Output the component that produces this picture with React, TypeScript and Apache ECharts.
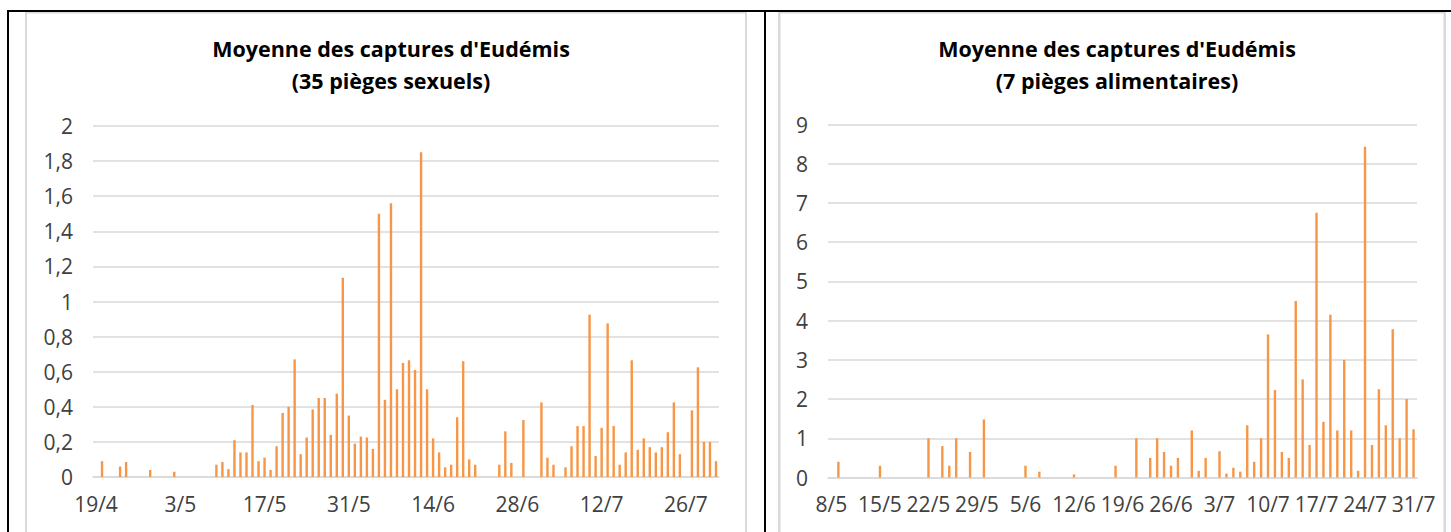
import React, { useEffect, useRef } from "react";
import * as echarts from "echarts";

// ---- Data ----
const leftTitle = "Moyenne des captures d'Eudémis\n(35 pièges sexuels)";
const rightTitle = "Moyenne des captures d'Eudémis\n(7 pièges alimentaires)";

// daily categories, first day of each series
const leftStart = { day: 19, month: 4, count: 104 };
const rightStart = { day: 8, month: 5, count: 85 };

// 35 pièges sexuels : 19/4 -> 31/7
const leftValues = [
  0, 0.09, 0, 0, 0.06, 0.085, 0, 0, 0, 0.04,
  0, 0, 0, 0.03, 0, 0, 0, 0, 0, 0,
  0.07, 0.085, 0.045, 0.21, 0.14, 0.14, 0.41, 0.09, 0.11, 0.04,
  0.175, 0.365, 0.4, 0.67, 0.13, 0.225, 0.385, 0.45, 0.45, 0.24,
  0.475, 1.135, 0.35, 0.19, 0.23, 0.225, 0.16, 1.5, 0.44, 1.56,
  0.5, 0.65, 0.665, 0.61, 1.85, 0.5, 0.22, 0.14, 0.055, 0.07,
  0.34, 0.66, 0.1, 0.07, 0, 0, 0, 0.07, 0.26, 0.08,
  0, 0.325, 0, 0, 0.425, 0.11, 0.07, 0, 0.055, 0.175,
  0.29, 0.29, 0.925, 0.12, 0.28, 0.875, 0.29, 0.07, 0.14, 0.665,
  0.155, 0.22, 0.17, 0.14, 0.17, 0.255, 0.425, 0.13, 0, 0.38,
  0.625, 0.2, 0.2, 0.09,
];

// 7 pièges alimentaires : 8/5 -> 31/7
const rightValues = [
  0, 0.4, 0, 0, 0, 0, 0, 0.3, 0, 0,
  0, 0, 0, 0, 1.0, 0, 0.8, 0.3, 1.0, 0,
  0.65, 0, 1.48, 0, 0, 0, 0, 0, 0.3, 0,
  0.15, 0, 0, 0, 0, 0.08, 0, 0, 0, 0,
  0, 0.3, 0, 0, 1.0, 0, 0.5, 1.0, 0.65, 0.3,
  0.5, 0, 1.2, 0.17, 0.5, 0, 0.67, 0.1, 0.25, 0.15,
  1.33, 0.4, 1.0, 3.65, 2.23, 0.65, 0.5, 4.5, 2.5, 0.83,
  6.75, 1.42, 4.15, 1.2, 3.0, 1.2, 0.17, 8.43, 0.83, 2.25,
  1.33, 3.78, 1.0, 2.0, 1.23,
];

const leftYTicks = { min: 0, max: 2, interval: 0.2 };
const rightYTicks = { min: 0, max: 9, interval: 1 };

function makeDates(s: { day: number; month: number; count: number }) {
  const out: string[] = [];
  const d = new Date(2021, s.month - 1, s.day);
  for (let i = 0; i < s.count; i++) {
    out.push(`${d.getDate()}/${d.getMonth() + 1}`);
    d.setDate(d.getDate() + 1);
  }
  return out;
}

const leftDates = makeDates(leftStart);
const rightDates = makeDates(rightStart);

const FONT = "Open Sans";
const LABEL_COLOR = "#404040";
const GRID_COLOR = "#d9d9d9";
const BAR_COLOR = "#F79646";

function fmtComma(v: number) {
  return String(Number(v.toFixed(1))).replace(".", ",");
}

export default function App() {
  const ref = useRef<HTMLDivElement>(null);

  useEffect(() => {
    if (!ref.current) return;
    const chart = echarts.init(ref.current, undefined, { renderer: "svg" });

    const xAxisCommon = (gridIndex: number, data: string[], step: number) => ({
      type: "category",
      gridIndex,
      data,
      boundaryGap: true,
      axisLine: { lineStyle: { color: GRID_COLOR, width: 1.5 } },
      axisTick: {
        interval: step - 1,
        length: 6,
        lineStyle: { color: GRID_COLOR, width: 1.5 },
      },
      axisLabel: {
        interval: step - 1,
        margin: 16,
        fontSize: 21,
        fontFamily: FONT,
        color: LABEL_COLOR,
      },
      splitLine: { show: false },
    });

    const yAxisCommon = (gridIndex: number, t: any, formatter: any) => ({
      type: "value",
      gridIndex,
      min: t.min,
      max: t.max,
      interval: t.interval,
      axisLine: { show: false },
      axisTick: { show: false },
      axisLabel: {
        margin: 20,
        fontSize: 21,
        fontFamily: FONT,
        color: LABEL_COLOR,
        formatter,
      },
      splitLine: { lineStyle: { color: GRID_COLOR, width: 1.5 } },
    });

    const line = (x: number, y: number, w: number, h: number, color: string) => ({
      type: "rect",
      shape: { x, y, width: w, height: h },
      style: { fill: color },
      silent: true,
    });

    const titleStyle = {
      fontFamily: FONT,
      fontWeight: "bold",
      fontSize: 21.5,
      lineHeight: 32,
      color: "#000000",
    };

    chart.setOption({
      animation: false,
      backgroundColor: "#ffffff",
      title: [
        { text: leftTitle, left: 386, top: 27, textAlign: "center", textStyle: titleStyle },
        { text: rightTitle, left: 1112, top: 27, textAlign: "center", textStyle: titleStyle },
      ],
      grid: [
        { left: 93, top: 126, width: 626, height: 351 },
        { left: 828, top: 124.5, width: 589, height: 353 },
      ],
      xAxis: [xAxisCommon(0, leftDates, 14), xAxisCommon(1, rightDates, 7)],
      yAxis: [
        yAxisCommon(0, leftYTicks, (v: number) => fmtComma(v)),
        yAxisCommon(1, rightYTicks, (v: number) => String(v)),
      ],
      series: [
        {
          type: "bar",
          xAxisIndex: 0,
          yAxisIndex: 0,
          data: leftValues,
          barWidth: 2.4,
          itemStyle: { color: BAR_COLOR },
        },
        {
          type: "bar",
          xAxisIndex: 1,
          yAxisIndex: 1,
          data: rightValues,
          barWidth: 2.4,
          itemStyle: { color: BAR_COLOR },
        },
      ],
      graphic: [
        // Excel chart-area borders (light grey)
        line(25, 12, 722, 1.5, GRID_COLOR),
        line(25, 12, 2, 520, GRID_COLOR),
        line(745, 12, 2, 520, GRID_COLOR),
        line(778, 12, 668, 1.5, GRID_COLOR),
        line(778, 12, 2.5, 520, GRID_COLOR),
        line(1443.5, 12, 2.5, 520, GRID_COLOR),
        // table borders (black)
        line(7, 10, 1444, 2, "#000000"),
        line(7, 10, 2, 522, "#000000"),
        line(764, 10, 2, 522, "#000000"),
      ],
    });

    return () => chart.dispose();
  }, []);

  return (
    <div
      ref={ref}
      style={{ position: "absolute", left: 0, top: 0, width: 1451, height: 532 }}
    />
  );
}
